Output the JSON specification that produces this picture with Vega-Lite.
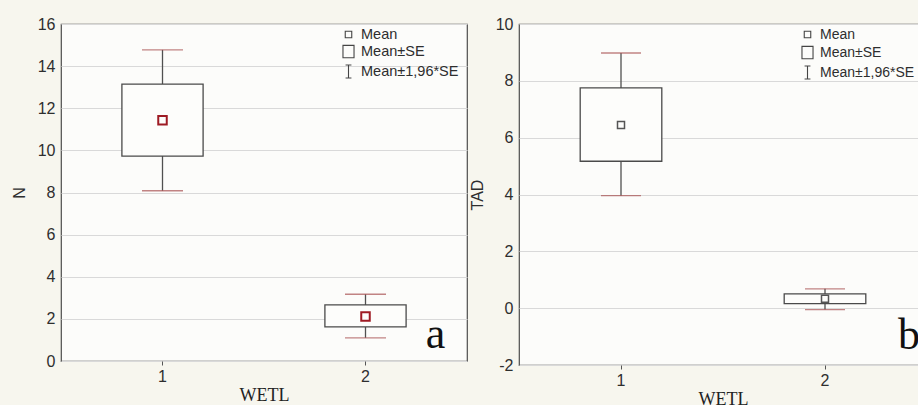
{
  "$schema": "https://vega.github.io/schema/vega-lite/v6.json",
  "background": "#f7f6ee",
  "padding": {"left": 10, "top": 15, "right": 0, "bottom": 0},
  "spacing": 0,
  "config": {
    "view": {"stroke": "#4d4d4d", "strokeWidth": 1.2, "fill": "#fcfcfa"},
    "axis": {
      "labelFont": "Liberation Sans",
      "labelFontSize": 16,
      "labelColor": "#2e2e2e",
      "titleFont": "Liberation Sans",
      "titleFontSize": 16,
      "titleFontWeight": "normal",
      "titleColor": "#2e2e2e",
      "domain": false,
      "gridColor": "#d9d9d9",
      "gridWidth": 1,
      "labelExpr": "'' + datum.value"
    },
    "axisX": {"grid": false, "ticks": true, "tickColor": "#555555", "tickSize": 4, "labelPadding": 3, "labelAngle": 0, "titleFont": "Liberation Serif", "titleFontSize": 18, "titleColor": "#222222", "titlePadding": 2},
    "axisY": {"ticks": false, "labelPadding": 6, "titlePadding": 10, "grid": true},
    "legend": {
      "labelFont": "Liberation Sans",
      "labelFontSize": 14.5,
      "labelColor": "#2e2e2e",
      "orient": "none",
      "legendY": 3,
      "padding": 0,
      "rowPadding": 2,
      "labelOffset": 5,
      "symbolSize": 169,
      "symbolStrokeWidth": 1.1,
      "symbolStrokeColor": "#444444",
      "symbolFillColor": "transparent",
      "title": null
    }
  },
  "datasets": {
    "nstats": [
      {"g": "1", "mean": 11.43, "se_lo": 9.73, "se_hi": 13.15, "ci_lo": 8.08, "ci_hi": 14.77},
      {"g": "2", "mean": 2.11, "se_lo": 1.62, "se_hi": 2.66, "ci_lo": 1.1, "ci_hi": 3.17}
    ],
    "tadstats": [
      {"g": "1", "mean": 6.45, "se_lo": 5.17, "se_hi": 7.75, "ci_lo": 3.96, "ci_hi": 8.98},
      {"g": "2", "mean": 0.33, "se_lo": 0.16, "se_hi": 0.5, "ci_lo": -0.05, "ci_hi": 0.68}
    ]
  },
  "resolve": {"scale": {"shape": "independent"}, "legend": {"shape": "independent"}},
  "hconcat": [
    {
      "width": 406,
      "height": 337,
      "data": {"name": "nstats"},
      "encoding": {
        "x": {"field": "g", "type": "ordinal", "title": "WETL", "scale": {"paddingInner": 0.6, "paddingOuter": 0.3}, "axis": {"bandPosition": 0.5}}
      },
      "layer": [
        {
          "mark": {"type": "rule", "color": "#505050", "strokeWidth": 1.3},
          "encoding": {
            "y": {"field": "ci_lo", "type": "quantitative", "title": "N", "scale": {"domain": [0, 16], "nice": false, "zero": false}, "axis": {"values": [0, 2, 4, 6, 8, 10, 12, 14, 16]}},
            "y2": {"field": "ci_hi"}
          }
        },
        {
          "mark": {"type": "tick", "color": "#a85050", "size": 41, "thickness": 1.4, "orient": "horizontal"},
          "encoding": {"y": {"field": "ci_lo", "type": "quantitative"}}
        },
        {
          "mark": {"type": "tick", "color": "#a85050", "size": 41, "thickness": 1.4, "orient": "horizontal"},
          "encoding": {"y": {"field": "ci_hi", "type": "quantitative"}}
        },
        {
          "mark": {"type": "bar", "fill": "#fdfdfb", "stroke": "#4a4a4a", "strokeWidth": 1.3},
          "encoding": {
            "y": {"field": "se_lo", "type": "quantitative"},
            "y2": {"field": "se_hi"}
          }
        },
        {
          "mark": {"type": "point", "filled": false, "stroke": "#9e1b24", "strokeWidth": 2, "size": 289, "opacity": 1},
          "encoding": {
            "y": {"field": "mean", "type": "quantitative"},
            "shape": {
              "datum": "Mean",
              "scale": {
                "domain": ["Mean", "Mean±SE", "Mean±1,96*SE"],
                "range": ["M-0.5,-0.5H0.5V0.5H-0.5Z", "M-0.85,-0.95H0.85V0.95H-0.85Z", "M-0.45,-1H0.45M0,-1V1M-0.45,1H0.45"]
              },
              "legend": {
                "legendX": 280,
                "symbolStrokeColor": "#444444",
                "encode": {
                  "symbols": {
                    "update": {
                      "stroke": {"signal": "datum.value === 'Mean±1,96*SE' ? '#8a4444' : '#444444'"},
                      "strokeWidth": {"value": 1.1},
                      "fill": {"value": "transparent"},
                      "size": {"value": 169}
                    }
                  }
                }
              }
            }
          }
        },
        {
          "data": {"values": [{"g": "2", "label": "a"}]},
          "mark": {"type": "text", "font": "Liberation Serif", "fontSize": 44, "color": "#111111", "align": "center", "baseline": "alphabetic", "dx": 70},
          "encoding": {
            "y": {"datum": 0.62, "type": "quantitative"},
            "text": {"field": "label"}
          }
        }
      ]
    },
    {
      "width": 408,
      "height": 341,
      "data": {"name": "tadstats"},
      "encoding": {
        "x": {"field": "g", "type": "ordinal", "title": "WETL", "scale": {"paddingInner": 0.6, "paddingOuter": 0.3}, "axis": {"bandPosition": 0.5}}
      },
      "layer": [
        {
          "mark": {"type": "rule", "color": "#505050", "strokeWidth": 1.3},
          "encoding": {
            "y": {"field": "ci_lo", "type": "quantitative", "title": "TAD", "scale": {"domain": [-2, 10], "nice": false, "zero": false}, "axis": {"values": [-2, 0, 2, 4, 6, 8, 10]}},
            "y2": {"field": "ci_hi"}
          }
        },
        {
          "mark": {"type": "tick", "color": "#a85050", "size": 40, "thickness": 1.4, "orient": "horizontal"},
          "encoding": {"y": {"field": "ci_lo", "type": "quantitative"}}
        },
        {
          "mark": {"type": "tick", "color": "#a85050", "size": 40, "thickness": 1.4, "orient": "horizontal"},
          "encoding": {"y": {"field": "ci_hi", "type": "quantitative"}}
        },
        {
          "mark": {"type": "bar", "fill": "#fdfdfb", "stroke": "#4a4a4a", "strokeWidth": 1.3},
          "encoding": {
            "y": {"field": "se_lo", "type": "quantitative"},
            "y2": {"field": "se_hi"}
          }
        },
        {
          "mark": {"type": "point", "filled": false, "stroke": "#555555", "strokeWidth": 1.5, "size": 196, "opacity": 1},
          "encoding": {
            "y": {"field": "mean", "type": "quantitative"},
            "shape": {
              "datum": "Mean",
              "scale": {
                "domain": ["Mean", "Mean±SE", "Mean±1,96*SE"],
                "range": ["M-0.5,-0.5H0.5V0.5H-0.5Z", "M-0.85,-0.95H0.85V0.95H-0.85Z", "M-0.45,-1H0.45M0,-1V1M-0.45,1H0.45"]
              },
              "legend": {
                "legendX": 281,
                "labelFontSize": 14,
                "symbolStrokeColor": "#444444",
                "encode": {
                  "symbols": {
                    "update": {
                      "stroke": {"signal": "datum.value === 'Mean±1,96*SE' ? '#8a4444' : '#444444'"},
                      "strokeWidth": {"value": 1.1},
                      "fill": {"value": "transparent"},
                      "size": {"value": 169}
                    }
                  }
                }
              }
            }
          }
        },
        {
          "data": {"values": [{"g": "2", "label": "b"}]},
          "mark": {"type": "text", "font": "Liberation Serif", "fontSize": 44, "color": "#111111", "align": "left", "baseline": "alphabetic", "dx": 73},
          "encoding": {
            "y": {"datum": -1.45, "type": "quantitative"},
            "text": {"field": "label"}
          }
        }
      ]
    }
  ]
}
